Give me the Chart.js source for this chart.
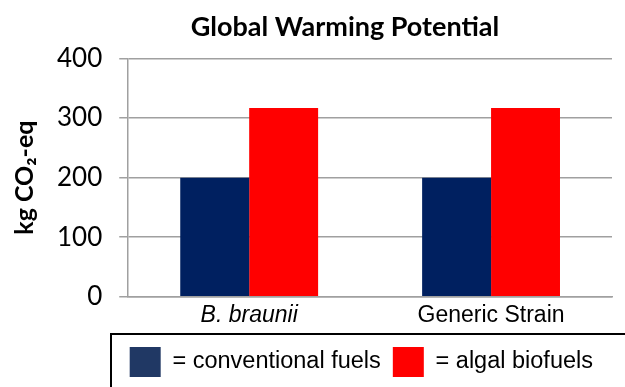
<!DOCTYPE html>
<html>
<head>
<meta charset="utf-8">
<script src="https://cdn.jsdelivr.net/npm/chart.js@4/dist/chart.umd.min.js"></script>
<style>
  html, body { margin: 0; padding: 0; background: #fff; }
  #wrap { width: 625px; height: 387px; }
</style>
</head>
<body>
<div id="wrap"><canvas id="gwpChart" width="625" height="387"></canvas></div>
<script>
// data
const strains = ["B. braunii", "Generic Strain"];
const conventional = [200, 200];
const algal = [317, 317];
const yTicks = [0, 100, 200, 300, 400];

// the original title sits left of the plot centre, and the legend has a frame
const chartTweaks = {
  id: "chartTweaks",
  afterLayout(chart) {
    const tb = chart.titleBlock;
    tb.left = 78;
    tb.width = tb.right - tb.left;
    chart.legend.left -= 7;
    chart.legend.right -= 7;
  },
  afterDraw(chart) {
    const lg = chart.legend;
    const c = chart.ctx;
    c.save();
    c.strokeStyle = "#000";
    c.lineWidth = 2;
    c.strokeRect(111, Math.round(lg.top) - 1, 560, 80);
    c.restore();
  }
};

const data = {
  labels: strains,
  datasets: [
    {
      label: "= conventional fuels",
      backgroundColor: "#002060",
      data: conventional,
    },
    {
      label: "= algal biofuels",
      backgroundColor: "#FF0000",
      data: algal,
    },
  ],
};

const config = {
  type: "bar",
  data: data,
  plugins: [chartTweaks],
  options: {
    responsive: false,
    animation: false,
    layout: { padding: { left: 0, right: 13, top: 6, bottom: 0 } },
    datasets: { bar: { categoryPercentage: 0.57, barPercentage: 1.0 } },
    plugins: {
      title: {
        display: true,
        text: "Global Warming Potential",
        color: "#000",
        font: { family: "Lato", size: 27, weight: "bold" },
        padding: { top: 5, bottom: 15 },
      },
      legend: {
        position: "bottom",
        align: "end",
        labels: {
          color: "#000",
          boxWidth: 31,
          boxHeight: 30,
          padding: 12,
          font: { family: "Liberation Sans", size: 23.5 },
          generateLabels(chart) {
            return chart.data.datasets.map((ds, i) => ({
              text: ds.label,
              fillStyle: i === 0 ? "#203864" : ds.backgroundColor,
              strokeStyle: "transparent",
              lineWidth: 0,
              fontColor: "#000",
              datasetIndex: i,
            }));
          },
        },
      },
      tooltip: { enabled: false },
    },
    scales: {
      x: {
        grid: { display: false, drawTicks: false },
        border: { display: true, color: "#a0a0a0", width: 1.5 },
        ticks: {
          color: "#000",
          padding: 7,
          font: (ctx) => ({
            family: "Liberation Sans",
            size: 23,
            lineHeight: 1.05,
            style: ctx.index === 0 ? "italic" : "normal",
          }),
        },
      },
      y: {
        min: 0,
        max: 400,
        afterBuildTicks(axis) {
          axis.ticks = yTicks.map((v) => ({ value: v }));
        },
        grid: { color: "#a0a0a0", lineWidth: 1.5, tickLength: 9 },
        border: { display: true, color: "#a0a0a0", width: 1.5 },
        ticks: {
          color: "#000",
          padding: 17,
          font: { family: "Lato", size: 26 },
        },
        title: {
          display: true,
          text: "kg CO₂-eq",
          color: "#000",
          font: { family: "Lato", size: 25, weight: "bold" },
          padding: { top: 10, bottom: 0 },
        },
      },
    },
  },
};

const ctx = document.getElementById("gwpChart").getContext("2d");
const gwpChart = new Chart(ctx, config);
</script>
</body>
</html>
